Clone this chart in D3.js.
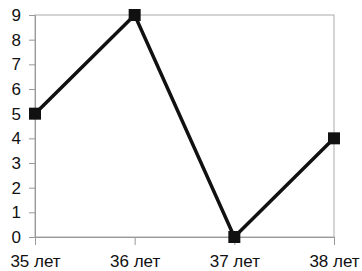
<!DOCTYPE html>
<html lang="ru">
<head>
<meta charset="utf-8">
<script src="https://cdn.jsdelivr.net/npm/d3@7"></script>
<style>
  body { margin: 0; background: #fff; }
  text { font-family: "Liberation Sans", Arial, sans-serif; font-size: 17px; fill: #111; }
</style>
</head>
<body>
<script>
var categories = ["35 лет", "36 лет", "37 лет", "38 лет"];
var values = [5, 9, 0, 4];
var yTicks = [0, 1, 2, 3, 4, 5, 6, 7, 8, 9];

var w = 362, h = 271;
var padLeft = 35, padRight = 334, padTop = 15, padBottom = 237;

var svg = d3.select("body").append("svg").attr("width", w).attr("height", h);

var x = d3.scalePoint().domain(categories).range([padLeft, padRight]);
var y = d3.scaleLinear().domain([0, 9]).range([padBottom, padTop]);

// plot frame
svg.append("rect").attr("x", padLeft).attr("y", padTop)
  .attr("width", padRight - padLeft).attr("height", padBottom - padTop)
  .attr("fill", "none").attr("stroke", "#aaa").attr("stroke-width", 1);

var yaxis = d3.axisLeft(y).tickValues(yTicks).tickSize(6).tickPadding(8);
var gy = svg.append("g").attr("transform", "translate(" + padLeft + ",0)").call(yaxis);
gy.select(".domain").attr("stroke", "#999");
gy.selectAll(".tick line").attr("stroke", "#999");

var xaxis = d3.axisBottom(x).tickSize(8).tickPadding(10);
var gx = svg.append("g").attr("transform", "translate(0," + padBottom + ")").call(xaxis);
gx.select(".domain").attr("stroke", "#999");
gx.selectAll(".tick line").attr("stroke", "#999");

svg.selectAll("g.tick text").attr("fill", "#111");

var data = categories.map(function(c, i) { return [c, values[i]]; });

svg.append("path").datum(data)
  .attr("fill", "none").attr("stroke", "#111").attr("stroke-width", 3.5)
  .attr("d", d3.line().x(function(d) { return x(d[0]); }).y(function(d) { return y(d[1]); }));

svg.selectAll("rect.mark").data(data).enter().append("rect")
  .attr("class", "mark")
  .attr("x", function(d) { return x(d[0]) - 6; })
  .attr("y", function(d) { return y(d[1]) - 6; })
  .attr("width", 12).attr("height", 12)
  .attr("fill", "#111");
</script>
</body>
</html>
